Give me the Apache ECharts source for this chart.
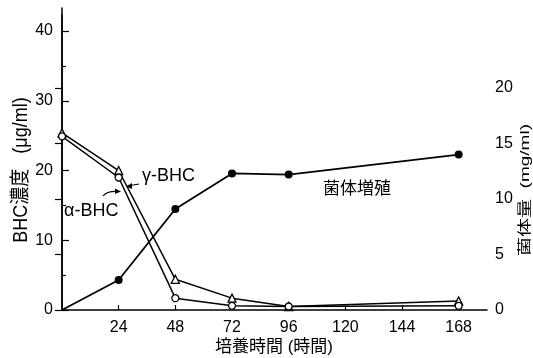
<!DOCTYPE html>
<html>
<head>
<meta charset="utf-8">
<script src="https://cdn.jsdelivr.net/npm/echarts@6/dist/echarts.min.js"></script>
<style>html,body{margin:0;padding:0;background:#fff;}#c{width:533px;height:358px;}</style>
</head>
<body>
<div id="c"></div>
<script>
const hours = [0, 24, 48, 72, 96, 168];
const gammaBHC = [25.4, 20.0, 4.4, 1.7, 0.5, 1.3];
const alphaBHC = [24.9, 19.0, 1.7, 0.6, 0.5, 0.6];
const growth = [0, 2.7, 9.1, 12.3, 12.2, 14.0];
const xTicks = [24, 48, 72, 96, 120, 144, 168];
const leftTicks = [0, 10, 20, 30, 40];
const leftMinor = [5, 15, 25, 35];
const rightTicks = [0, 5, 10, 15, 20];

const FONT = '"Liberation Sans", "Noto Sans CJK JP", sans-serif';
const chart = echarts.init(document.getElementById('c'), null, {renderer: 'canvas'});
const pair = (xs, ys) => xs.map((x, i) => [x, ys[i]]);
const growthData = pair(hours, growth).map((p, i) => i === 0 ? {value: p, symbol: 'none'} : p);

chart.setOption({
  animation: false,
  backgroundColor: '#fff',
  textStyle: {fontFamily: FONT, color: '#000'},
  grid: [
    {left: 62, right: 46, top: 15, bottom: 48},
    {left: 62, right: 46, top: 8, bottom: 48}
  ],
  xAxis: [
    {type: 'value', gridIndex: 0, min: 0, max: 180,
     axisLine: {show: true, lineStyle: {color: '#000', width: 1.5}},
     axisTick: {show: true, inside: true, length: 5, customValues: xTicks, lineStyle: {color: '#000', width: 1.2}},
     axisLabel: {show: true, customValues: xTicks, margin: 10, fontSize: 16, color: '#000', fontFamily: FONT},
     splitLine: {show: false}},
    {type: 'value', gridIndex: 1, min: 0, max: 180, show: false}
  ],
  yAxis: [
    {type: 'value', gridIndex: 0, min: 0, max: 42.3, position: 'left',
     axisLine: {show: true, lineStyle: {color: '#000', width: 1.5}},
     axisTick: {show: true, inside: true, length: 7, customValues: leftTicks, lineStyle: {color: '#000', width: 1.2}},
     axisLabel: {show: true, customValues: leftTicks, margin: 9, fontSize: 16, color: '#000', fontFamily: FONT},
     splitLine: {show: false}},
    {type: 'value', gridIndex: 0, min: 0, max: 42.3, position: 'left',
     axisLine: {show: false},
     axisTick: {show: true, inside: true, length: 4, customValues: leftMinor, lineStyle: {color: '#000', width: 1.2}},
     axisLabel: {show: false},
     splitLine: {show: false}},
    {type: 'value', gridIndex: 1, min: 0, max: 27.2, position: 'right',
     axisLine: {show: true, lineStyle: {color: '#000', width: 1.5}},
     axisTick: {show: true, inside: true, length: 7, customValues: rightTicks, lineStyle: {color: '#000', width: 1.2}},
     axisLabel: {show: true, customValues: rightTicks, margin: 8, fontSize: 16, color: '#000', fontFamily: FONT},
     splitLine: {show: false}}
  ],
  series: [
    {name: 'γ-BHC', type: 'line', xAxisIndex: 0, yAxisIndex: 0, data: pair(hours, gammaBHC),
     symbol: 'triangle', symbolSize: 8, showAllSymbol: true,
     lineStyle: {color: '#000', width: 1.5},
     itemStyle: {color: '#fff', borderColor: '#000', borderWidth: 1.3}, z: 3},
    {name: 'α-BHC', type: 'line', xAxisIndex: 0, yAxisIndex: 0, data: pair(hours, alphaBHC),
     symbol: 'circle', symbolSize: 7, showAllSymbol: true,
     lineStyle: {color: '#000', width: 1.5},
     itemStyle: {color: '#fff', borderColor: '#000', borderWidth: 1.3}, z: 4},
    {name: '菌体増殖', type: 'line', xAxisIndex: 1, yAxisIndex: 2, data: growthData,
     symbol: 'circle', symbolSize: 8, showAllSymbol: true,
     lineStyle: {color: '#000', width: 1.8},
     itemStyle: {color: '#000', borderColor: '#000', borderWidth: 0}, z: 5}
  ],
  graphic: [
    {type: 'text', x: 21, y: 170, rotation: Math.PI / 2, scaleY: 1.15,
     style: {text: 'BHC濃度   (μg/ml)', align: 'center', verticalAlign: 'middle', font: '18px ' + FONT, fill: '#000'}},
    {type: 'text', x: 525, y: 190, rotation: Math.PI / 2, scaleY: 0.72,
     style: {text: '菌体量  (mg/ml)', align: 'center', verticalAlign: 'middle', font: '19px ' + FONT, fill: '#000'}},
    {type: 'text', x: 274, y: 347,
     style: {text: '培養時間 (時間)', align: 'center', verticalAlign: 'middle', font: '17px ' + FONT, fill: '#000'}},
    {type: 'text', x: 142, y: 176,
     style: {text: 'γ-BHC', align: 'left', verticalAlign: 'middle', font: '18px ' + FONT, fill: '#000'}},
    {type: 'text', x: 64, y: 211,
     style: {text: 'α-BHC', align: 'left', verticalAlign: 'middle', font: '18px ' + FONT, fill: '#000'}},
    {type: 'text', x: 357, y: 189,
     style: {text: '菌体増殖', align: 'center', verticalAlign: 'middle', font: '17px ' + FONT, fill: '#000'}},
    {type: 'polyline', shape: {points: [[139, 184], [128, 186]]}, style: {stroke: '#000', lineWidth: 1.2, fill: null}},
    {type: 'polygon', shape: {points: [[126, 186.5], [132, 183], [132, 189]]}, style: {fill: '#000'}},
    {type: 'bezierCurve', shape: {x1: 103, y1: 196, x2: 119, y2: 191.5, cpx1: 106, cpy1: 192, cpx2: 112, cpy2: 191}, style: {stroke: '#000', lineWidth: 1.2, fill: null}},
    {type: 'polygon', shape: {points: [[121, 191.5], [115, 188.5], [115, 194]]}, style: {fill: '#000'}}
  ]
});
</script>
</body>
</html>
